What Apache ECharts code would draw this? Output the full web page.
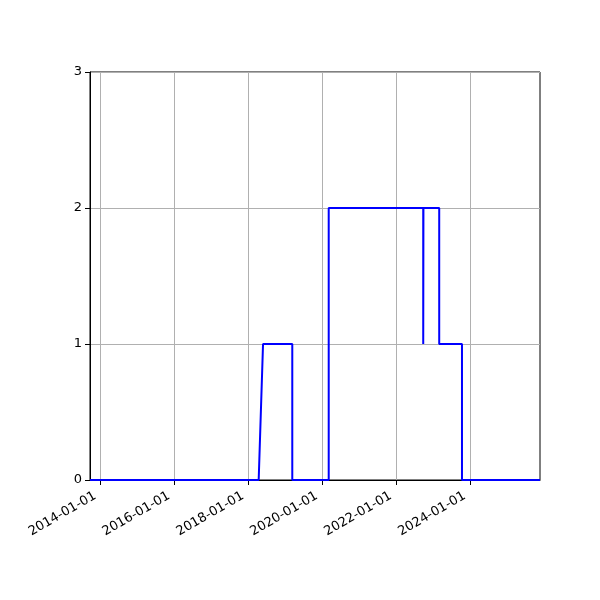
<!DOCTYPE html>
<html>
<head>
<meta charset="utf-8">
<script src="https://cdn.jsdelivr.net/npm/echarts@6/dist/echarts.min.js"></script>
<style>
    html, body { margin: 0; padding: 0; background: #fff; }
    #chart { width: 600px; height: 600px; }
</style>
</head>
<body>
<div id="chart"></div>
<script>
// dates where the count changes
var dates = [
    '2013-09-21', '2018-04-15', '2018-05-28', '2019-03-13', '2019-03-13',
    '2020-03-07', '2020-03-07', '2022-09-27', '2022-09-27', '2022-09-29',
    '2023-03-04', '2023-03-04', '2023-10-15', '2023-10-15', '2025-11-24'
];
var counts = [0, 0, 1, 1, 0, 0, 2, 2, 1, 2, 2, 1, 1, 0, 0];
var xTicks = ['2014-01-01', '2016-01-01', '2018-01-01', '2020-01-01', '2022-01-01', '2024-01-01'];
var yTicks = [0, 1, 2, 3];

function ts(d) {
    return Date.parse(d + 'T00:00:00Z');
}

var seriesData = dates.map(function (d, i) {
    return [ts(d), counts[i]];
});
var tickValues = xTicks.map(ts);

var myChart = echarts.init(document.getElementById('chart'));
var font = 'DejaVu Sans';

option = {
    animation: false,
    grid: {
        left: 90,
        right: 60,
        top: 72,
        bottom: 120,
        show: true,
        borderColor: '#000',
        borderWidth: 1,
        backgroundColor: 'transparent'
    },
    xAxis: {
        // timestamps on a value axis so custom tick dates can be used
        type: 'value',
        min: ts(dates[0]),
        max: ts(dates[dates.length - 1]),
        axisLine: {onZero: false, lineStyle: {color: '#000', width: 1}},
        axisTick: {show: true, length: 5, lineStyle: {color: '#000'}, customValues: tickValues},
        axisLabel: {
            customValues: tickValues,
            rotate: 30,
            margin: 12,
            padding: [0, 6, 0, 0],
            color: '#000',
            fontFamily: font,
            fontSize: 13,
            formatter: function (v) {
                return new Date(v).toISOString().slice(0, 10);
            }
        },
        splitLine: {show: true, lineStyle: {color: '#b0b0b0', width: 1}}
    },
    yAxis: {
        type: 'value',
        min: yTicks[0],
        max: yTicks[yTicks.length - 1],
        interval: 1,
        axisLine: {show: true, lineStyle: {color: '#000', width: 1}},
        axisTick: {show: true, length: 5, lineStyle: {color: '#000'}},
        axisLabel: {
            margin: 8,
            color: '#000',
            fontFamily: font,
            fontSize: 13
        },
        splitLine: {show: true, lineStyle: {color: '#b0b0b0', width: 1}}
    },
    series: [
        {
            type: 'line',
            data: seriesData,
            showSymbol: false,
            symbol: 'none',
            lineStyle: {color: '#0000ff', width: 2},
            z: 5
        }
    ]
};
myChart.setOption(option);
</script>
</body>
</html>
